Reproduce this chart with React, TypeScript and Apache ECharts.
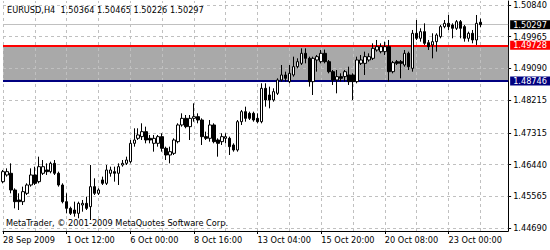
import React, { useEffect, useRef } from "react";
import * as echarts from "echarts";

const SYMBOL = "EURUSD,H4";
const COPYRIGHT = "MetaTrader, © 2001-2009 MetaQuotes Software Corp.";

const xTickLabels = [
  "28 Sep 2009",
  "1 Oct 12:00",
  "6 Oct 00:00",
  "8 Oct 16:00",
  "13 Oct 04:00",
  "15 Oct 20:00",
  "20 Oct 08:00",
  "23 Oct 00:00",
];

const yTickLabels = [1.5084, 1.49965, 1.4909, 1.48215, 1.47315, 1.4644, 1.45565, 1.4469];

// OHLC of the H4 bars, [open, close, low, high]
const candles: number[][] = [
  [1.45968, 1.46244, 1.45922, 1.4629],
  [1.46152, 1.46244, 1.46106, 1.46335],
  [1.46198, 1.45738, 1.45646, 1.46473],
  [1.45738, 1.45416, 1.45232, 1.45784],
  [1.45462, 1.45416, 1.45186, 1.45646],
  [1.45416, 1.45692, 1.45324, 1.4583],
  [1.45646, 1.45876, 1.456, 1.45922],
  [1.45876, 1.46152, 1.4583, 1.46335],
  [1.46152, 1.45922, 1.45876, 1.46381],
  [1.45968, 1.46381, 1.45922, 1.46657],
  [1.46198, 1.46381, 1.46152, 1.46565],
  [1.4629, 1.46244, 1.46152, 1.46473],
  [1.46244, 1.46473, 1.46198, 1.46519],
  [1.46473, 1.46198, 1.46152, 1.46565],
  [1.46198, 1.45876, 1.4583, 1.46244],
  [1.45876, 1.45416, 1.4537, 1.45922],
  [1.45416, 1.45232, 1.45094, 1.45646],
  [1.45232, 1.45094, 1.45048, 1.45278],
  [1.45186, 1.45094, 1.45002, 1.45416],
  [1.45094, 1.4537, 1.44957, 1.45416],
  [1.45324, 1.4537, 1.4514, 1.45462],
  [1.4537, 1.45232, 1.45186, 1.45554],
  [1.45278, 1.4583, 1.44911, 1.46427],
  [1.4583, 1.45646, 1.456, 1.4606],
  [1.45646, 1.45738, 1.456, 1.45784],
  [1.46014, 1.45922, 1.45876, 1.46106],
  [1.45922, 1.4629, 1.45876, 1.46427],
  [1.46198, 1.4629, 1.46106, 1.46381],
  [1.46244, 1.46198, 1.45968, 1.46381],
  [1.46198, 1.46381, 1.45876, 1.46473],
  [1.46427, 1.46473, 1.46381, 1.46565],
  [1.46473, 1.46565, 1.46427, 1.46657],
  [1.46519, 1.47025, 1.46473, 1.47117],
  [1.47025, 1.47117, 1.46933, 1.47439],
  [1.47163, 1.47255, 1.47117, 1.47439],
  [1.47209, 1.47347, 1.47117, 1.47577],
  [1.47347, 1.47117, 1.47025, 1.47485],
  [1.47163, 1.47117, 1.47025, 1.47255],
  [1.47025, 1.47163, 1.46795, 1.47255],
  [1.47025, 1.47209, 1.46933, 1.47255],
  [1.47209, 1.46887, 1.46795, 1.47301],
  [1.46887, 1.46703, 1.46565, 1.46933],
  [1.46703, 1.46795, 1.46473, 1.46933],
  [1.46749, 1.47117, 1.46703, 1.47163],
  [1.47071, 1.47531, 1.47025, 1.47577],
  [1.47531, 1.47714, 1.47485, 1.47852],
  [1.47714, 1.47485, 1.47439, 1.47806],
  [1.47485, 1.47714, 1.47117, 1.47806],
  [1.47714, 1.4776, 1.47622, 1.48128],
  [1.4776, 1.47668, 1.47577, 1.47852],
  [1.47668, 1.47209, 1.46979, 1.47714],
  [1.47209, 1.47163, 1.47117, 1.47347],
  [1.47163, 1.47531, 1.47071, 1.47668],
  [1.47531, 1.47071, 1.47025, 1.47577],
  [1.47117, 1.47025, 1.46657, 1.47163],
  [1.47071, 1.47209, 1.46979, 1.47301],
  [1.47163, 1.47209, 1.47025, 1.47301],
  [1.47163, 1.46933, 1.46703, 1.47209],
  [1.46979, 1.46841, 1.46795, 1.47025],
  [1.46841, 1.47622, 1.46795, 1.47668],
  [1.47622, 1.47898, 1.47531, 1.47944],
  [1.47898, 1.47714, 1.47622, 1.48036],
  [1.47852, 1.47714, 1.47668, 1.47898],
  [1.47852, 1.47668, 1.47622, 1.47898],
  [1.47714, 1.47622, 1.47577, 1.47852],
  [1.47622, 1.48542, 1.47577, 1.4868],
  [1.48542, 1.4822, 1.48036, 1.4868],
  [1.48358, 1.4822, 1.4799, 1.48588],
  [1.4822, 1.4845, 1.48174, 1.48542],
  [1.48404, 1.48772, 1.48358, 1.48818],
  [1.48772, 1.4891, 1.48726, 1.49185],
  [1.4891, 1.48818, 1.48726, 1.49001],
  [1.48726, 1.48955, 1.4868, 1.49185],
  [1.4891, 1.49139, 1.48864, 1.49415],
  [1.49139, 1.49277, 1.49093, 1.49369],
  [1.49231, 1.49507, 1.49185, 1.49645],
  [1.49507, 1.49369, 1.49231, 1.49645],
  [1.49369, 1.48726, 1.48588, 1.49415],
  [1.48726, 1.49369, 1.48358, 1.49415],
  [1.49323, 1.49415, 1.49001, 1.49461],
  [1.49277, 1.49507, 1.49231, 1.49599],
  [1.49507, 1.49277, 1.49231, 1.4961],
  [1.49277, 1.49001, 1.48955, 1.49323],
  [1.49001, 1.48772, 1.48634, 1.49047],
  [1.48772, 1.48864, 1.48404, 1.49047],
  [1.48864, 1.48818, 1.48726, 1.48955],
  [1.48864, 1.49001, 1.48726, 1.49047],
  [1.4891, 1.48726, 1.48634, 1.49139],
  [1.4891, 1.48726, 1.4822, 1.48955],
  [1.48726, 1.49323, 1.4868, 1.49415],
  [1.49231, 1.49323, 1.49185, 1.49461],
  [1.49231, 1.49415, 1.4891, 1.49553],
  [1.49323, 1.49415, 1.49277, 1.49507],
  [1.49369, 1.49645, 1.49323, 1.49783],
  [1.49599, 1.49691, 1.49553, 1.49875],
  [1.49553, 1.49691, 1.49507, 1.49783],
  [1.49553, 1.49691, 1.49461, 1.49829],
  [1.49691, 1.49001, 1.48726, 1.49875],
  [1.49001, 1.4925, 1.48955, 1.49296],
  [1.49277, 1.49231, 1.49185, 1.49323],
  [1.49277, 1.49231, 1.48818, 1.49323],
  [1.49185, 1.49507, 1.49139, 1.49599],
  [1.49507, 1.49139, 1.49047, 1.49553],
  [1.49093, 1.50059, 1.49001, 1.50151],
  [1.50059, 1.49921, 1.49875, 1.50426],
  [1.49921, 1.50105, 1.49829, 1.50197],
  [1.50105, 1.49783, 1.49737, 1.50334],
  [1.498, 1.49691, 1.49599, 1.49875],
  [1.49737, 1.49829, 1.49369, 1.50059],
  [1.49829, 1.50013, 1.49553, 1.50059],
  [1.49967, 1.50243, 1.49921, 1.50288],
  [1.50243, 1.50334, 1.50197, 1.50426],
  [1.50334, 1.50243, 1.50151, 1.50564],
  [1.50288, 1.50197, 1.49921, 1.50334],
  [1.50197, 1.5038, 1.50151, 1.50426],
  [1.5038, 1.50197, 1.49921, 1.50426],
  [1.50243, 1.49921, 1.49829, 1.50288],
  [1.49921, 1.50059, 1.49829, 1.50105],
  [1.50059, 1.49875, 1.49783, 1.50151],
  [1.49875, 1.50334, 1.49737, 1.50564],
  [1.50364, 1.50297, 1.50226, 1.50465],
];

const levelHigh = 1.49728; // red line
const levelLow = 1.48746; // blue line
const bidPrice = 1.50297; // current price line

const BARS_PER_LABEL = 16;
const BARS_PER_GRID = 8;
const TOTAL_SLOTS = 128; // bars + empty right shift

const FONT = "'DejaVu Sans', Verdana, sans-serif";
const FS = 8.2;

export default function App() {
  const ref = useRef<HTMLDivElement>(null);

  useEffect(() => {
    const chart = echarts.init(ref.current!, null, { renderer: "svg" });

    const categories = Array.from({ length: TOTAL_SLOTS }, (_, i) => String(i));
    const data = categories.map((_, i) => (i < candles.length ? candles[i] : "-"));
    const vGrid = categories.filter((_, i) => i % BARS_PER_GRID === 0);
    const last = candles[candles.length - 1];
    const title = `${SYMBOL}  ${last[0].toFixed(5)} ${last[3].toFixed(5)} ${last[2].toFixed(5)} ${last[1].toFixed(5)}`;

    const priceLabel = (bg: string, value: number) => ({
      show: true,
      position: "end",
      distance: 2,
      formatter: () => value.toFixed(5),
      color: "#fff",
      backgroundColor: bg,
      padding: [1, 3, 0, 3],
      fontSize: FS,
      fontFamily: FONT,
      align: "left",
    });

    chart.setOption({
      animation: false,
      backgroundColor: "#ffffff",
      grid: { left: 3, top: 1, width: 507, height: 230, containLabel: false },
      xAxis: {
        type: "category",
        data: categories,
        boundaryGap: false,
        axisLine: { show: true, lineStyle: { color: "#000", width: 1 } },
        axisTick: { show: true, interval: BARS_PER_LABEL - 1, length: 3, lineStyle: { color: "#000" } },
        axisLabel: {
          show: true,
          interval: BARS_PER_LABEL - 1,
          align: "left",
          margin: 5,
          color: "#000",
          fontSize: FS,
          fontFamily: FONT,
          formatter: (_v: string, i: number) => xTickLabels[Math.floor(i / BARS_PER_LABEL)] ?? "",
        },
        splitLine: { show: false },
      },
      yAxis: {
        type: "value",
        position: "right",
        min: 1.44607,
        max: 1.5095,
        scale: true,
        axisLine: { show: true, lineStyle: { color: "#000", width: 1 } },
        axisTick: { show: true, length: 3, customValues: yTickLabels, lineStyle: { color: "#000" } },
        axisLabel: {
          show: true,
          margin: 5,
          customValues: yTickLabels,
          color: "#000",
          fontSize: FS,
          fontFamily: FONT,
          formatter: (v: number) => v.toFixed(5),
        },
        splitLine: { show: false },
      },
      graphic: [
        {
          type: "text",
          left: 7,
          top: 6,
          style: { text: title, fill: "#000", font: `${FS}px ${FONT}` },
          z: 100,
        },
        {
          type: "text",
          left: 6,
          top: 219,
          style: { text: COPYRIGHT, fill: "#000", font: `${FS}px ${FONT}` },
          z: 100,
        },
      ],
      series: [
        {
          type: "line",
          data: [],
          z: 1,
          markArea: {
            silent: true,
            z: 1,
            itemStyle: { color: "#a9a9a9", opacity: 1 },
            label: { show: false },
            data: [[{ yAxis: levelLow }, { yAxis: levelHigh }]],
          },
        },
        {
          type: "line",
          data: [],
          z: 2,
          markLine: {
            silent: true,
            z: 2,
            precision: 5,
            symbol: "none",
            label: { show: false },
            lineStyle: { color: "#c0c0c0", type: [3, 3], width: 1 },
            emphasis: { disabled: true },
            data: [
              ...yTickLabels.map((v) => ({ yAxis: v })),
              ...vGrid.map((c) => ({ xAxis: c })),
            ],
          },
        },
        {
          type: "line",
          data: [],
          z: 3,
          markLine: {
            silent: true,
            z: 3,
            precision: 5,
            symbol: "none",
            emphasis: { disabled: true },
            data: [
              { yAxis: bidPrice, lineStyle: { color: "#c0c0c0", type: "solid", width: 1 }, label: priceLabel("#000", bidPrice) },
              { yAxis: levelHigh, lineStyle: { color: "#ff0000", type: "solid", width: 2 }, label: priceLabel("#ff0000", levelHigh) },
              { yAxis: levelLow, lineStyle: { color: "#000080", type: "solid", width: 2 }, label: priceLabel("#000080", levelLow) },
            ],
          },
        },
        {
          type: "candlestick",
          data,
          z: 5,
          clip: false,
          barWidth: 3,
          itemStyle: {
            color: "#ffffff",
            color0: "#000000",
            borderColor: "#000000",
            borderColor0: "#000000",
            borderWidth: 1,
          },
        },
      ],
    });

    return () => chart.dispose();
  }, []);

  return (
    <div
      ref={ref}
      style={{ position: "fixed", left: 0, top: 0, width: 550, height: 250 }}
    />
  );
}
